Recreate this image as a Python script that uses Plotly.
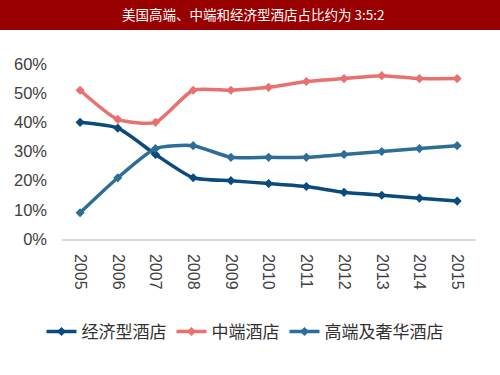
import plotly.graph_objects as go

years = ["2005", "2006", "2007", "2008", "2009", "2010", "2011", "2012", "2013", "2014", "2015"]
economy = [0.40, 0.38, 0.29, 0.21, 0.20, 0.19, 0.18, 0.16, 0.15, 0.14, 0.13]
midscale = [0.51, 0.41, 0.40, 0.51, 0.51, 0.52, 0.54, 0.55, 0.56, 0.55, 0.55]
upscale = [0.09, 0.21, 0.31, 0.32, 0.28, 0.28, 0.28, 0.29, 0.30, 0.31, 0.32]
names = ["经济型酒店", "中端酒店", "高端及奢华酒店"]
colors = ["#0a4a7c", "#e8706f", "#2c6e98"]
title = "美国高端、中端和经济型酒店占比约为 3:5:2"

W, H = 500, 375
ML, MR, MT, MB = 62, 24, 64, 136
pw, ph = W - ML - MR, H - MT - MB

fig = go.Figure()
for vals, name, col in zip([economy, midscale, upscale], names, colors):
    fig.add_trace(go.Scatter(
        x=list(range(len(years))), y=vals, name=name, mode="lines+markers",
        line=dict(color=col, width=3.5, shape="spline", smoothing=0.6),
        marker=dict(symbol="diamond", size=7, color=col),
    ))

fig.update_layout(
    width=W, height=H, margin=dict(l=ML, r=MR, t=MT, b=MB),
    paper_bgcolor="white", plot_bgcolor="white",
    font=dict(family="Liberation Sans, Arial, Noto Sans CJK SC", color="#404040"),
    showlegend=True,
    legend=dict(orientation="h", xref="container", x=0.49, xanchor="center",
                y=(H - 332) / H, yref="container", yanchor="middle",
                font=dict(family="Noto Sans CJK SC", size=17, color="#333333"),
                itemwidth=30, tracegroupgap=0),
    xaxis=dict(tickmode="array", tickvals=list(range(len(years))), ticktext=years,
               range=[-0.48, len(years) - 0.5], tickangle=90, showgrid=False,
               showline=True, linecolor="#d9d9d9", linewidth=1.5, zeroline=False,
               tickfont=dict(size=16, color="#404040"), ticks="", ticklabelstandoff=10),
    yaxis=dict(range=[0, 0.6], tickvals=[0, 0.1, 0.2, 0.3, 0.4, 0.5, 0.6], tickformat=".0%",
               showgrid=False, zeroline=False, showline=False,
               tickfont=dict(size=16.5, color="#404040"), ticks="", ticklabelstandoff=14),
)

fig.add_shape(type="rect", xref="paper", yref="paper",
              x0=-ML / pw, x1=1 + MR / pw, y0=1 + (MT - 30) / ph, y1=1 + MT / ph,
              fillcolor="#990000", line=dict(width=0), layer="above")
fig.add_annotation(text=title, xref="paper", yref="paper",
                   x=(253 - ML) / pw, y=1 + (MT - 14) / ph, xanchor="center", yanchor="middle",
                   showarrow=False, font=dict(family="Noto Sans CJK SC", size=13.5, color="white"))

fig.write_html("out.html", config={"displayModeBar": False},
               post_script="document.body.style.margin='0';document.body.style.overflow='hidden';")
